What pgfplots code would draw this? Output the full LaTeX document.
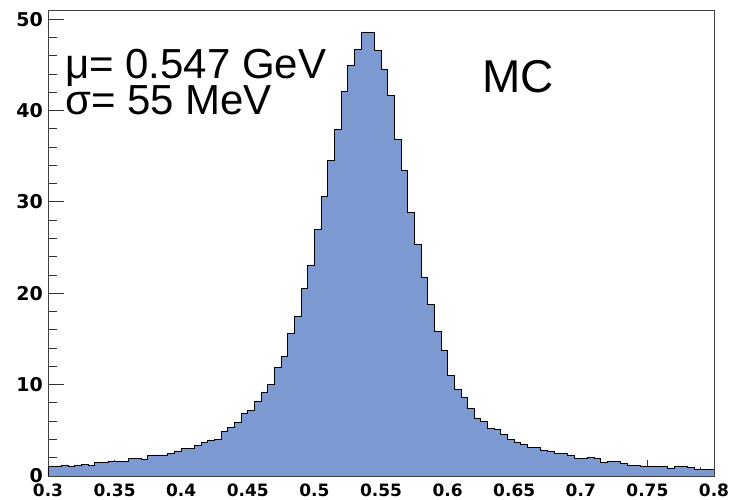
\documentclass[border=0pt]{standalone}
\usepackage{pgfplots}
\pgfplotsset{compat=1.18}
\usepackage{fontspec}
\setmainfont{Liberation Sans}
\newfontfamily\tickfont{DejaVu Sans}
\definecolor{histfill}{RGB}{125,153,209}
\begin{document}
\begin{tikzpicture}
\path[use as bounding box] (-48pt,-24pt) rectangle (683pt,476pt);
\begin{axis}[
  scale only axis,
  width=666pt, height=466pt,
  xmin=0.3, xmax=0.8, ymin=0, ymax=51,
  xtick={0.3,0.35,0.4,0.45,0.5,0.55,0.6,0.65,0.7,0.75,0.8},
  xticklabels={0.3,0.35,0.4,0.45,0.5,0.55,0.6,0.65,0.7,0.75,0.8},
  ytick={0,10,20,30,40,50},
  yticklabels={0,10,20,30,40,50},
  minor x tick num=4,
  minor y tick num=4,
  xtick pos=bottom, ytick pos=left,
  tick align=inside,
  major tick length=16pt,
  minor tick length=9pt,
  axis line style={black!75, line width=0.8pt},
  every tick/.style={black!80, line width=0.8pt},
  x tick label style={font=\tickfont\bfseries\fontsize{17}{20}\selectfont, inner sep=0pt, anchor=north, yshift=-8pt},
  y tick label style={font=\tickfont\bfseries\fontsize{19}{22}\selectfont, inner sep=0pt, anchor=east, xshift=-5pt},
  /pgf/number format/assume math mode=true,
  clip=true,
]
\addplot[fill=histfill, draw=black, line width=0.8pt, const plot mark left] coordinates {
(0.300,1.1) (0.305,1.1) (0.310,1.15) (0.315,1.05) (0.320,1.15)
(0.325,1.25) (0.330,1.15) (0.335,1.45) (0.340,1.45) (0.345,1.65)
(0.350,1.6) (0.355,1.6) (0.360,1.95) (0.365,1.9) (0.370,1.85)
(0.375,2.2) (0.380,2.3) (0.385,2.3) (0.390,2.5) (0.395,2.7)
(0.400,3.05) (0.405,3.05) (0.410,3.4) (0.415,3.7) (0.420,3.9)
(0.425,4.0) (0.430,4.85) (0.435,5.35) (0.440,5.85) (0.445,6.9)
(0.450,7.15) (0.455,8.15) (0.460,9.2) (0.465,10.05) (0.470,11.9)
(0.475,13.1) (0.480,15.6) (0.485,17.45) (0.490,20.5) (0.495,23.1)
(0.500,27.0) (0.505,30.6) (0.510,34.5) (0.515,37.9) (0.520,42.1)
(0.525,44.9) (0.530,46.7) (0.535,48.6) (0.540,48.5) (0.545,46.6)
(0.550,44.5) (0.555,41.6) (0.560,36.8) (0.565,33.4) (0.570,28.8)
(0.575,25.4) (0.580,21.7) (0.585,18.8) (0.590,15.8) (0.595,13.8)
(0.600,11.0) (0.605,9.5) (0.610,8.6) (0.615,7.45) (0.620,6.35)
(0.625,5.95) (0.630,5.2) (0.635,5.05) (0.640,4.57) (0.645,4.0)
(0.650,3.65) (0.655,3.47) (0.660,3.14) (0.665,3.14) (0.670,2.85)
(0.675,2.67) (0.680,2.45) (0.685,2.45) (0.690,2.3) (0.695,1.95)
(0.700,1.95) (0.705,2.0) (0.710,1.9) (0.715,1.5) (0.720,1.57)
(0.725,1.57) (0.730,1.4) (0.735,1.17) (0.740,1.13) (0.745,1.1)
(0.750,1.1) (0.755,1.0) (0.760,1.06) (0.765,0.88) (0.770,1.02)
(0.775,1.02) (0.780,0.91) (0.785,0.73) (0.790,0.73) (0.795,0.73)
(0.800,0.73)
} \closedcycle;
\node[anchor=base west, inner sep=0pt, font=\fontsize{42}{48}\selectfont] at (rel axis cs:0.0255,0.854) {μ= 0.547 GeV};
\node[anchor=base west, inner sep=0pt, font=\fontsize{42}{48}\selectfont] at (rel axis cs:0.0255,0.775) {σ= 55 MeV};
\node[anchor=base west, inner sep=0pt, font=\fontsize{46}{52}\selectfont] at (rel axis cs:0.652,0.824) {MC};
\end{axis}
\end{tikzpicture}
\end{document}
